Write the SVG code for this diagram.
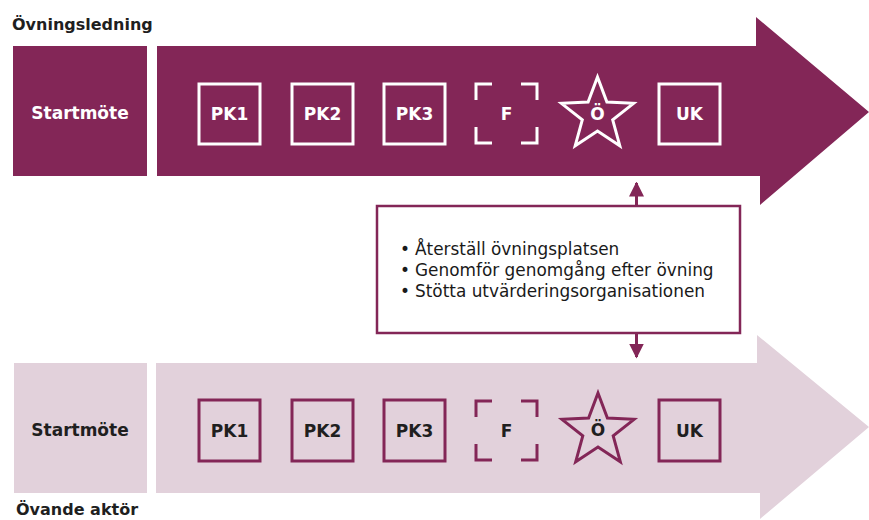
<svg xmlns="http://www.w3.org/2000/svg" width="869" height="520" viewBox="0 0 869 520">
  <defs>
    <style>
      .dark { fill: #832657; }
      .light { fill: #e2d1db; }
      .lbl { font-family: "DejaVu Sans", "Liberation Sans", sans-serif; font-weight: bold; text-anchor: middle; dominant-baseline: central; }
      .title { font-family: "DejaVu Sans", "Liberation Sans", sans-serif; font-weight: bold; font-size: 16px; fill: #1f1f1f; }
      .w { fill: #ffffff; }
      .k { fill: #1f1f1f; }
      .boxW { fill: none; stroke: #ffffff; stroke-width: 3; }
      .boxD { fill: none; stroke: #832657; stroke-width: 3; }
      .bullet { font-family: "DejaVu Sans", "Liberation Sans", sans-serif; font-size: 16.9px; fill: #1a1a1a; }
      .conn { stroke: #832657; stroke-width: 3; fill: none; }
    </style>
    <marker id="head" viewBox="0 0 10 10" refX="9" refY="5" markerWidth="5" markerHeight="5" markerUnits="strokeWidth" orient="auto">
      <path d="M0,0 L10,5 L0,10 z" fill="#832657"/>
    </marker>
    <polygon id="star" points="0,-38 9.4,-13 36.1,-11.7 15.2,4.9 22.3,30.7 0,16 -22.3,30.7 -15.2,4.9 -36.1,-11.7 -9.4,-13"/>
    <path id="brackets" d="M0,16 V0 H16 M45,0 H61 V16 M61,43 V59 H45 M16,59 H0 V43"/>
  </defs>

  <!-- lane: exercise management -->
  <g id="lane-top">
    <text class="title" x="12" y="30">Övningsledning</text>
    <g id="top-start">
      <rect class="dark" x="13" y="46" width="134" height="130"/>
      <text class="lbl w" x="80" y="113" font-size="17">Startmöte</text>
    </g>
    <polygon id="top-arrow" class="dark" points="157,46 756,46 756,17 869,112 760,205 760,176 157,176"/>
    <g id="top-pk1"><rect class="boxW" x="199" y="84" width="61" height="60"/><text class="lbl w" x="229.5" y="114" font-size="17">PK1</text></g>
    <g id="top-pk2"><rect class="boxW" x="292" y="84" width="61" height="60"/><text class="lbl w" x="322.5" y="114" font-size="17">PK2</text></g>
    <g id="top-pk3"><rect class="boxW" x="384" y="84" width="61" height="60"/><text class="lbl w" x="414.5" y="114" font-size="17">PK3</text></g>
    <g id="top-f"><use href="#brackets" x="476" y="84" class="boxW"/><text class="lbl w" x="506.5" y="114" font-size="17">F</text></g>
    <g id="top-o"><use href="#star" x="597.5" y="115" class="boxW"/><text class="lbl w" x="597.5" y="114" font-size="17">Ö</text></g>
    <g id="top-uk"><rect class="boxW" x="659" y="84" width="61" height="60"/><text class="lbl w" x="689.5" y="114" font-size="17">UK</text></g>
  </g>

  <!-- lane: participating actor -->
  <g id="lane-bottom">
    <g id="bot-start">
      <rect class="light" x="14" y="363" width="133" height="130"/>
      <text class="lbl k" x="80" y="430" font-size="17">Startmöte</text>
    </g>
    <polygon id="bot-arrow" class="light" points="156,363 757,363 757,335 869,427 760,519 760,493 156,493"/>
    <g id="bot-pk1"><rect class="boxD" x="199" y="400" width="61" height="61"/><text class="lbl k" x="229.5" y="431" font-size="17">PK1</text></g>
    <g id="bot-pk2"><rect class="boxD" x="292" y="400" width="61" height="61"/><text class="lbl k" x="322.5" y="431" font-size="17">PK2</text></g>
    <g id="bot-pk3"><rect class="boxD" x="384" y="400" width="61" height="61"/><text class="lbl k" x="414.5" y="431" font-size="17">PK3</text></g>
    <g id="bot-f"><use href="#brackets" x="476" y="401" class="boxD"/><text class="lbl k" x="506.5" y="431" font-size="17">F</text></g>
    <g id="bot-o"><use href="#star" x="598" y="431" class="boxD"/><text class="lbl k" x="598" y="430" font-size="17">Ö</text></g>
    <g id="bot-uk"><rect class="boxD" x="659" y="400" width="61" height="61"/><text class="lbl k" x="689.5" y="431" font-size="17">UK</text></g>
    <text class="title" x="16" y="515">Övande aktör</text>
  </g>

  <!-- after-exercise tasks -->
  <g id="tasks">
    <rect x="377" y="206" width="363" height="127" fill="#ffffff" stroke="#832657" stroke-width="2.5"/>
    <text class="bullet">
      <tspan x="400" y="255">•</tspan><tspan x="415" y="255">Återställ övningsplatsen</tspan>
      <tspan x="400" y="276">•</tspan><tspan x="415" y="276">Genomför genomgång efter övning</tspan>
      <tspan x="400" y="297">•</tspan><tspan x="415" y="297">Stötta utvärderingsorganisationen</tspan>
    </text>
  </g>

  <!-- connectors -->
  <g id="connectors">
    <line class="conn" x1="636.5" y1="206" x2="636.5" y2="183" marker-end="url(#head)"/>
    <line class="conn" x1="636.5" y1="333" x2="636.5" y2="357" marker-end="url(#head)"/>
  </g>
</svg>
